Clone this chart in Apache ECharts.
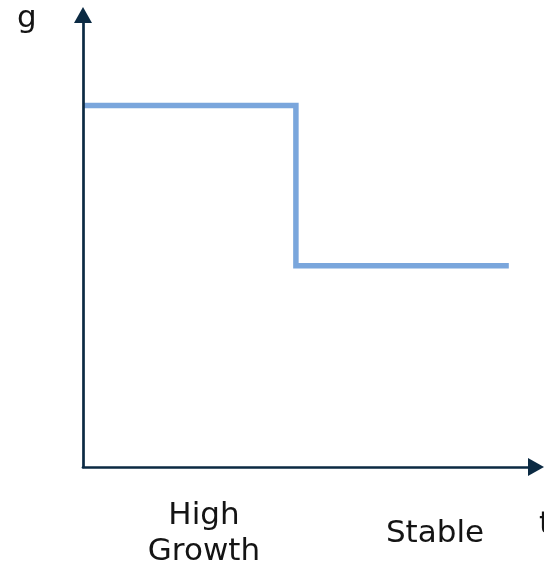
<!DOCTYPE html>
<html>
<head>
<meta charset="utf-8">
<style>
  html, body { margin: 0; padding: 0; background: #ffffff; }
  #chart { width: 544px; height: 570px; }
</style>
<script src="https://cdn.jsdelivr.net/npm/echarts@6/dist/echarts.min.js"></script>
</head>
<body>
<div id="chart"></div>
<script>
// Growth rate g over time t: a high-growth phase followed by a stable phase
const phaseX = [0, 47, 94];          // time where each phase starts / ends
const growthRate = [80, 44.5, 44.5]; // growth rate g at those points

const phaseNames = ['High\nGrowth', 'Stable'];
const phaseLabelX = [26.7, 77.7];

const axisColor = '#0b2a43';
const lineColor = '#7aa6dc';
const textColor = '#141414';
const fontFamily = 'DejaVu Sans';
const fontSize = 31;

const chart = echarts.init(document.getElementById('chart'), null, { renderer: 'canvas' });

const axisCommon = {
  type: 'value',
  min: 0,
  max: 100,
  axisTick: { show: false },
  axisLabel: { show: false },
  splitLine: { show: false },
  z: 10
};

chart.setOption({
  animation: false,
  backgroundColor: '#ffffff',
  grid: { left: 83, right: 8, top: 15, bottom: 103, containLabel: false, outerBoundsMode: 'none' },
  xAxis: Object.assign({}, axisCommon, {
    axisLine: {
      show: true,
      lineStyle: { color: axisColor, width: 2.7 },
      symbol: ['none', 'triangle'],
      symbolSize: [18, 16],
      symbolOffset: [0, 0]
    }
  }),
  yAxis: Object.assign({}, axisCommon, {
    axisLine: {
      show: true,
      lineStyle: { color: axisColor, width: 2.7 },
      symbol: ['none', 'triangle'],
      symbolSize: [18, 16],
      symbolOffset: [0, 0]
    }
  }),
  series: [
    {
      type: 'line',
      step: 'end',
      data: phaseX.map((x, i) => [x, growthRate[i]]),
      showSymbol: false,
      symbol: 'none',
      lineStyle: { color: lineColor, width: 5.5, join: 'miter', cap: 'butt' },
      z: 2
    }
  ]
});

// Axis names and phase captions, placed through the grid's coordinate system
const textStyle = (text, x, y, align, vAlign) => ({
  type: 'text',
  x: x,
  y: y,
  style: {
    text: text,
    fill: textColor,
    fontFamily: fontFamily,
    fontSize: fontSize,
    lineHeight: 36,
    align: align,
    verticalAlign: vAlign
  }
});

const graphics = [
  textStyle('g', 17, 1, 'left', 'top'),
  textStyle('t', 539, 507, 'left', 'top')
];
phaseNames.forEach((name, i) => {
  const pt = chart.convertToPixel({ gridIndex: 0 }, [phaseLabelX[i], 0]);
  graphics.push(textStyle(name, pt[0], pt[1] + 67, 'center', 'middle'));
});
chart.setOption({ graphic: graphics });
</script>
</body>
</html>
